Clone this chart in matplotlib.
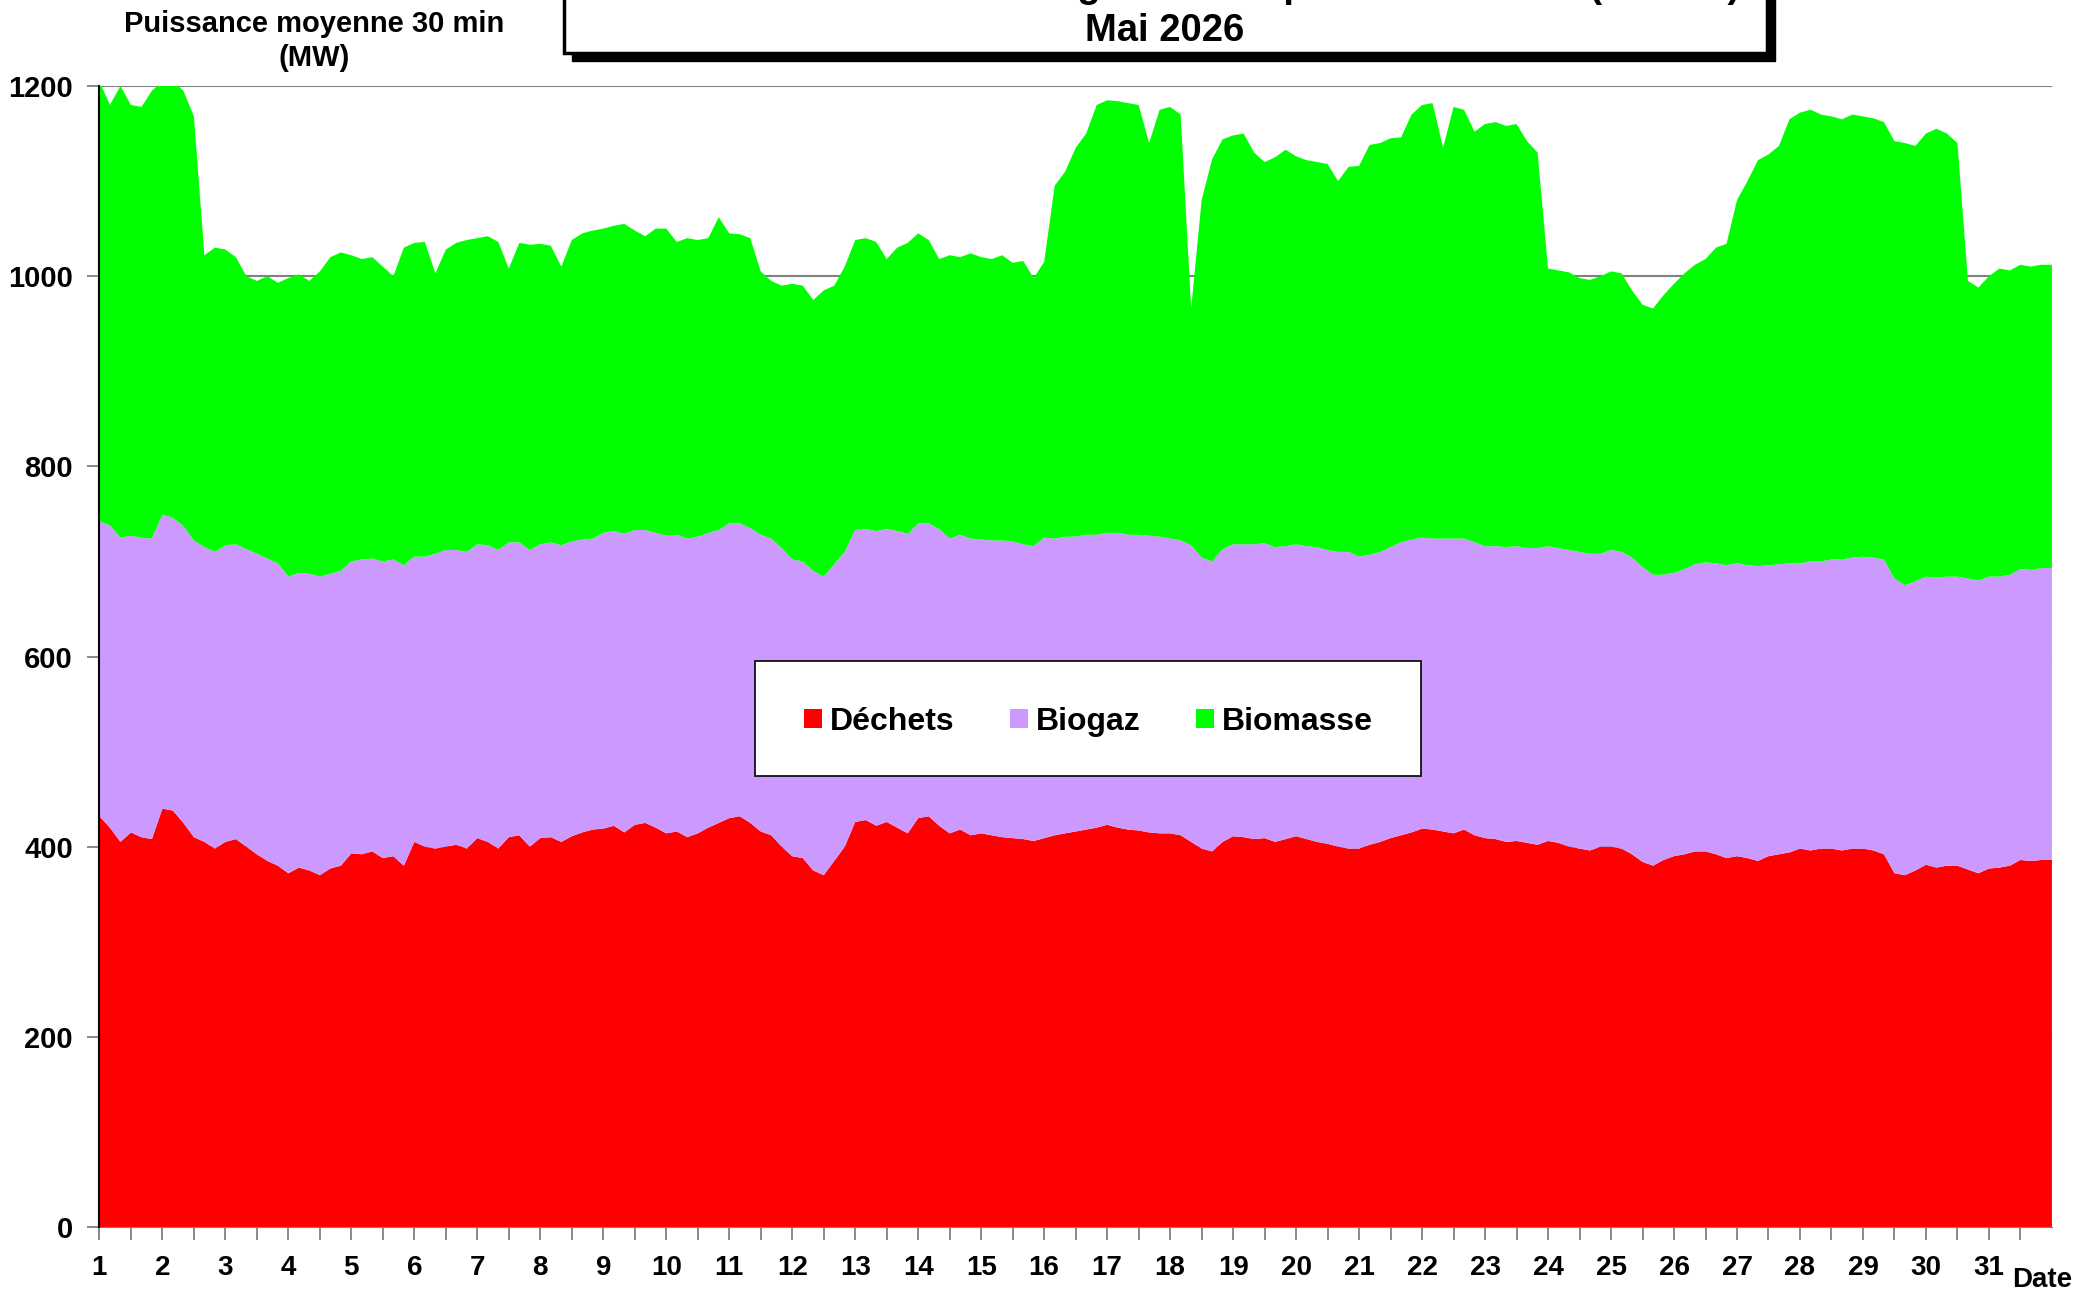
import numpy as np
import matplotlib
matplotlib.use("Agg")
import matplotlib.pyplot as plt
from matplotlib.patches import Patch, Rectangle

# Puissance moyenne (MW), un point toutes les 4 h, du 1er mai 0h au 1er juin 0h
dechets = [
    432, 420, 405, 415, 410, 408,
    440, 438, 425, 410, 405, 398,
    405, 408, 400, 392, 385, 380,
    372, 378, 375, 370, 377, 380,
    393, 392, 395, 388, 390, 380,
    405, 400, 398, 400, 402, 398,
    409, 405, 398, 410, 412, 400,
    409, 410, 405, 411, 415, 418,
    419, 422, 415, 423, 425, 420,
    414, 416, 410, 414, 420, 425,
    430, 432, 425, 416, 412, 400,
    390, 388, 375, 370, 385, 400,
    426, 428, 422, 426, 420, 414,
    430, 432, 422, 414, 418, 412,
    414, 412, 410, 409, 408, 406,
    409, 412, 414, 416, 418, 420,
    423, 420, 418, 417, 415, 414,
    414, 412, 405, 398, 395, 405,
    411, 410, 408, 409, 405, 408,
    411, 408, 405, 403, 400, 398,
    398, 402, 405, 409, 412, 415,
    419, 418, 416, 414, 418, 412,
    409, 408, 405, 406, 404, 402,
    406, 404, 400, 398, 396, 400,
    400, 398, 392, 384, 380, 386,
    390, 392, 395, 395, 392, 388,
    390, 388, 385, 390, 392, 394,
    398, 396, 398, 398, 396, 398,
    398, 396, 392, 372, 370, 375,
    381, 378, 380, 380, 376, 372,
    377, 378, 380, 386, 385, 386,
    386]

biogaz = [
    310, 318, 320, 312, 315, 316,
    309, 308, 312, 312, 310, 312,
    312, 310, 313, 316, 318, 318,
    312, 310, 312, 314, 310, 310,
    307, 310, 308, 312, 312, 316,
    300, 305, 310, 312, 310, 312,
    309, 312, 314, 310, 308, 312,
    309, 310, 312, 310, 308, 306,
    311, 310, 314, 310, 308, 310,
    313, 312, 314, 312, 310, 308,
    310, 308, 310, 312, 312, 314,
    312, 312, 315, 314, 312, 310,
    307, 306, 310, 308, 312, 315,
    310, 308, 312, 310, 310, 312,
    309, 310, 312, 312, 310, 310,
    316, 312, 312, 310, 310, 308,
    307, 310, 310, 311, 312, 312,
    310, 310, 312, 306, 305, 308,
    307, 308, 310, 310, 310, 308,
    307, 308, 310, 309, 310, 312,
    307, 305, 305, 306, 308, 308,
    306, 306, 308, 310, 306, 308,
    307, 308, 310, 310, 310, 312,
    310, 310, 312, 312, 312, 308,
    312, 312, 312, 310, 306, 300,
    298, 300, 302, 304, 306, 308,
    308, 308, 310, 306, 305, 304,
    300, 304, 302, 304, 306, 306,
    307, 308, 310, 310, 305, 304,
    303, 305, 304, 304, 306, 308,
    307, 306, 306, 306, 306, 307,
    307]

biomasse = [
    463, 442, 475, 453, 453, 471,
    456, 459, 458, 446, 307, 320,
    311, 302, 287, 287, 297, 295,
    314, 314, 308, 321, 333, 335,
    322, 316, 317, 310, 298, 334,
    330, 331, 295, 316, 323, 328,
    322, 325, 324, 288, 315, 321,
    316, 312, 293, 317, 322, 324,
    320, 321, 326, 315, 309, 320,
    323, 308, 316, 312, 310, 329,
    305, 304, 305, 277, 271, 276,
    290, 290, 285, 301, 293, 300,
    305, 306, 304, 284, 298, 306,
    305, 298, 284, 298, 292, 300,
    297, 296, 300, 293, 298, 282,
    290, 371, 384, 409, 422, 452,
    455, 454, 454, 452, 413, 449,
    454, 448, 249, 376, 423, 431,
    430, 432, 412, 401, 410, 417,
    408, 406, 405, 406, 390, 405,
    411, 431, 430, 430, 426, 447,
    455, 458, 411, 454, 451, 432,
    444, 446, 443, 444, 428, 416,
    292, 292, 292, 288, 288, 292,
    293, 293, 281, 276, 280, 294,
    304, 311, 315, 319, 332, 338,
    382, 404, 427, 432, 440, 467,
    474, 475, 470, 466, 463, 466,
    463, 462, 460, 460, 465, 458,
    466, 472, 466, 456, 313, 308,
    316, 324, 320, 320, 319, 319,
    319]

labels = ['Déchets', 'Biogaz', 'Biomasse']
colors = ['#FF0000', '#CC99FF', '#00FF00']
day_ticks = list(range(1, 32))

t = 1 + np.arange(len(dechets)) / 6

plt.rcParams['font.family'] = ['Liberation Sans', 'DejaVu Sans']
plt.rcParams['font.weight'] = 'bold'

fig = plt.figure(figsize=(20.8, 12.95), dpi=100)
ax = fig.add_axes([0.0478, 0.0525, 0.9387, 0.8811])

ax.stackplot(t, dechets, biogaz, biomasse, colors=colors, linewidth=0, zorder=2)

ax.set_xlim(1, 32)
ax.set_ylim(0, 1200)
ax.set_yticks(range(0, 1201, 200))
ax.set_xticks(day_ticks)
ax.set_xticks(np.arange(1.5, 32, 1), minor=True)
ax.grid(axis='y', color='#808080', lw=1.5, zorder=0)
ax.set_axisbelow(True)

for s in ['top', 'right']:
    ax.spines[s].set_visible(False)
ax.spines['left'].set_color('black')
ax.spines['left'].set_linewidth(1.5)
ax.spines['left'].set_zorder(5)
ax.spines['bottom'].set_color('#808080')

ax.tick_params(axis='both', which='both', color='#808080', length=9, width=1.3)
ax.tick_params(axis='x', labelsize=20, pad=11)
ax.tick_params(axis='y', labelsize=21, pad=10)
for lab in ax.get_xticklabels() + ax.get_yticklabels():
    lab.set_fontweight('bold')

# legende
ax.add_patch(Rectangle((0.3357, 0.395), 0.341, 0.101, transform=ax.transAxes,
                       facecolor='white', edgecolor='black', lw=1.2, zorder=6))
handles = [Patch(facecolor=c, edgecolor='none') for c in colors]
leg = ax.legend(handles, labels, loc='center', bbox_to_anchor=(0.5066, 0.443),
                ncol=3, frameon=False, handlelength=0.55,
                handleheight=0.55, handletextpad=0.25, columnspacing=1.75,
                prop={'weight': 'bold', 'size': 23})
leg.set_zorder(7)

# textes
fig.text(314 / 2080, 0.9753, 'Puissance moyenne 30 min', ha='center', va='baseline',
         fontsize=21, fontweight='bold')
fig.text(314 / 2080, 0.949, '(MW)', ha='center', va='baseline',
         fontsize=21, fontweight='bold')
fig.text(0.982, 0.0115, 'Date', ha='center', va='center', fontsize=20, fontweight='bold')

# cadre du titre (coupé en haut comme l'original)
x0, x1, yb = 564 / 2080, 1767 / 2080, 1 - 53 / 1295
fig.patches.append(Rectangle((x0 + 8 / 2080, yb - 8 / 1295), x1 - x0, 0.1,
                             transform=fig.transFigure, facecolor='black',
                             edgecolor='black', zorder=1))
fig.patches.append(Rectangle((x0, yb), x1 - x0, 0.1, transform=fig.transFigure,
                             facecolor='white', edgecolor='black', lw=2.5, zorder=2))
fig.text(0.5697, 1 + 3 / 1295, 'Production de la bioénergie horaire par combustible (France)',
         ha='center', va='baseline', fontsize=27.5, fontweight='bold', zorder=3)
fig.text(1165 / 2080, 1 - 41 / 1295, 'Mai 2026', ha='center', va='baseline',
         fontsize=27.5, fontweight='bold', zorder=3)

fig.savefig('out.png', dpi=100)
